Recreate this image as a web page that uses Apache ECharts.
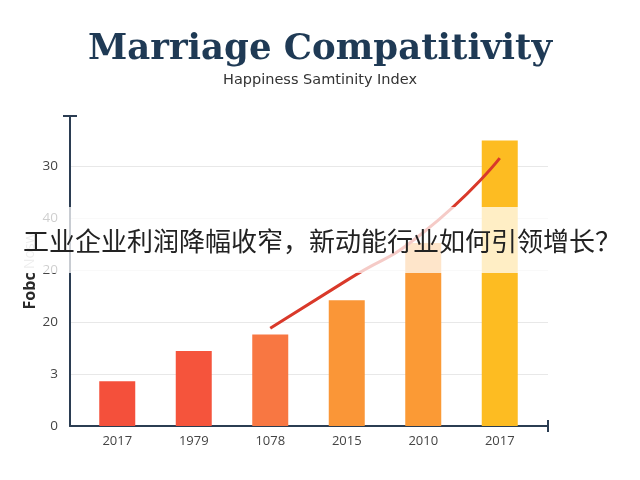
<!DOCTYPE html>
<html>
<head>
<meta charset="utf-8">
<script src="https://cdn.jsdelivr.net/npm/echarts@6/dist/echarts.min.js"></script>
<style>html,body{margin:0;padding:0;background:#fff}#c{width:640px;height:480px}</style>
</head>
<body>
<div id="c"></div>
<script>
// Data
const categories = ['2017', '1979', '1078', '2015', '2010', '2017'];
const barValues = [0.86, 1.44, 1.76, 2.42, 3.52, 5.49];
const lineValues = [null, null, 1.88, 2.8, 3.72, 5.15];
const yTickLabels = ['0', '3', '20', '20', '40', '30'];
const titleText = 'Marriage Compatitivity';
const subtitleText = 'Happiness Samtinity Index';
const yAxisName = ['Fobc', 'Nosw'];
const overlayText = '工业企业利润降幅收窄，新动能行业如何引领增长？';

// Styles
const barColors = ['#f4503b', '#f5543c', '#f87742', '#fa9637', '#fb9a35', '#fdbc22'];
const axisColor = '#2b3d52';
const yMax = 5.96;

const chart = echarts.init(document.getElementById('c'));
chart.setOption({
  animation: false,
  backgroundColor: '#ffffff',
  title: {
    text: titleText,
    subtext: subtitleText,
    left: 'center',
    top: 27,
    itemGap: 5,
    textStyle: { fontFamily: 'DejaVu Serif', fontWeight: 'bold', fontSize: 35.5, color: '#1f3a55' },
    subtextStyle: { fontFamily: 'DejaVu Sans', fontSize: 14.5, color: '#333333' }
  },
  grid: [
    { left: 70, right: 92, top: 116, bottom: 54 },
    { left: 79, right: 102, top: 116, bottom: 54 }
  ],
  xAxis: [
    {
      type: 'value', gridIndex: 0, min: 0, max: 1,
      axisLine: { show: true, lineStyle: { color: axisColor, width: 2 }, symbol: ['none', 'rect'], symbolSize: [12, 2] },
      axisTick: { show: false }, axisLabel: { show: false }, splitLine: { show: false }
    },
    {
      type: 'category', gridIndex: 1, data: categories,
      axisLine: { show: false }, axisTick: { show: false },
      axisLabel: { color: '#444', fontSize: 13, fontFamily: 'Open Sans', margin: 9 }
    }
  ],
  yAxis: [
    {
      type: 'value', gridIndex: 0, min: 0, max: yMax, interval: 1,
      name: '{a|' + yAxisName[0] + '} {b|' + yAxisName[1] + '}',
      nameLocation: 'middle', nameGap: 32, nameRotate: 90, nameMoveOverlap: false,
      nameTextStyle: {
        rich: {
          a: { fontFamily: 'Open Sans', fontWeight: 'bold', fontSize: 16, color: '#2a2a2a' },
          b: { fontFamily: 'Open Sans', fontSize: 14, color: '#bbbbbb' }
        }
      },
      axisLine: { show: true, lineStyle: { color: axisColor, width: 2 }, symbol: ['none', 'rect'], symbolSize: [14, 2] },
      axisTick: { show: false },
      axisLabel: {
        color: '#444', fontSize: 13.5, fontFamily: 'Open Sans', margin: 12,
        formatter: function (v) { return Number.isInteger(v) && yTickLabels[v] !== undefined ? yTickLabels[v] : ''; }
      },
      splitLine: { show: true, showMaxLine: false, lineStyle: { color: '#e8e8e8', width: 1 } }
    },
    {
      type: 'value', gridIndex: 1, min: 0, max: yMax, interval: 1,
      axisLine: { show: false }, axisTick: { show: false }, axisLabel: { show: false }, splitLine: { show: false }
    }
  ],
  series: [
    {
      type: 'bar', xAxisIndex: 1, yAxisIndex: 1, barWidth: 36,
      data: barValues.map(function (v, i) { return { value: v, itemStyle: { color: barColors[i] } }; }),
      z: 2
    },
    {
      type: 'line', xAxisIndex: 1, yAxisIndex: 1, data: lineValues, smooth: 0.6,
      showSymbol: false, symbol: 'none', connectNulls: false,
      lineStyle: { color: '#d9392a', width: 3 }, z: 3
    }
  ],
  graphic: [
    { type: 'rect', z: 100, shape: { x: 0, y: 207, width: 640, height: 66 }, style: { fill: 'rgba(255,255,255,0.74)' } },
    {
      type: 'text', z: 101,
      style: {
        text: overlayText, x: 322, y: 241, align: 'center', verticalAlign: 'middle',
        font: '26px "Noto Sans CJK SC"', fill: '#222222'
      }
    }
  ]
});
</script>
</body>
</html>
